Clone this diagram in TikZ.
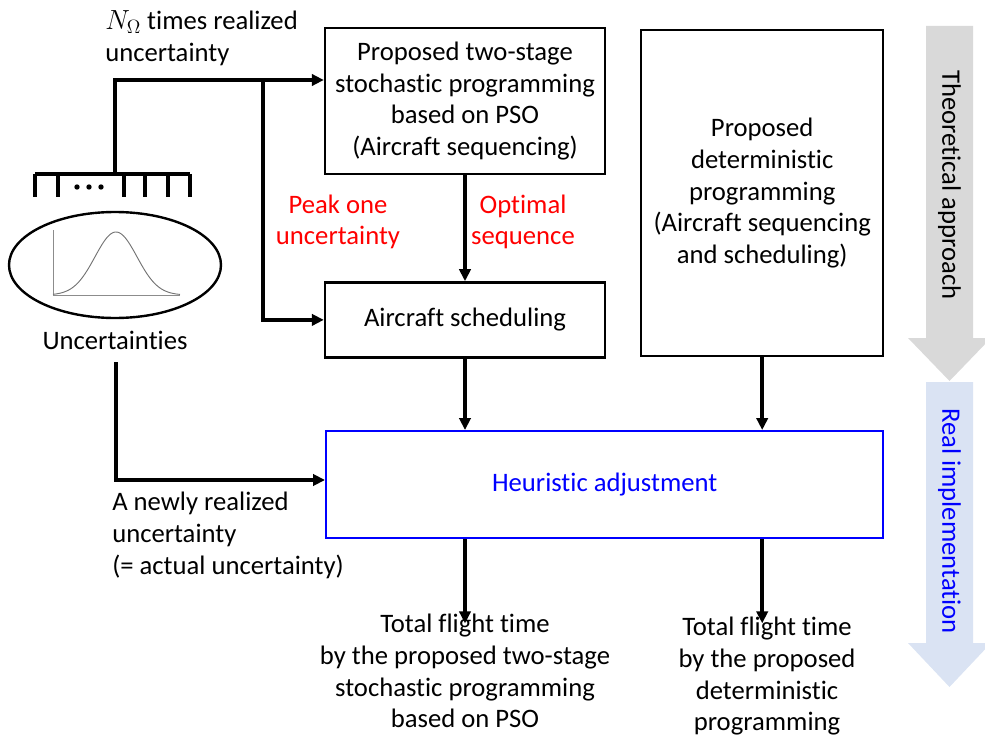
\documentclass[tikz,border=0pt]{standalone}
\usepackage{fontspec}
\setmainfont{Carlito}[Ligatures={NoCommon}]
\usetikzlibrary{arrows.meta,positioning,shapes.geometric}
\definecolor{FlowBlue}{HTML}{0000FF}
\definecolor{FlowRed}{HTML}{FF0000}
\definecolor{ApproachGray}{HTML}{D9D9D9}
\definecolor{ImplBlue}{HTML}{DAE3F3}

\begin{document}
\begin{tikzpicture}[
  x=0.75pt,y=-0.75pt,
  font=\fontsize{20}{23.8}\selectfont,
  box/.style={rectangle,draw=black,line width=1.8pt,align=center,inner sep=0pt},
  note/.style={align=center,inner sep=0pt},
  wire/.style={line width=2.6pt},
  flow/.style={-{Triangle[length=9pt,width=8.5pt]},line width=2.6pt}
]
\useasboundingbox (0,0) rectangle (985,738);
% approach arrows
\fill[ApproachGray] (926,26) -- (973,26) -- (973,338) -- (991,338) -- (949.5,381) -- (908,338) -- (926,338) -- cycle;
\node[rotate=-90] (theory) at (949.5,185) {Theoretical approach};
\fill[ImplBlue] (926,382) -- (973,382) -- (973,643) -- (991,643) -- (949.5,687) -- (908,643) -- (926,643) -- cycle;
\node[rotate=-90,text=FlowBlue] (impl) at (949.5,521) {Real implementation};
% stages
\node[box,minimum width=210pt,minimum height=109.5pt] (twostage) at (465,101) {Proposed two-stage\\stochastic programming\\based on PSO\\(Aircraft sequencing)};
\node[box,minimum width=210pt,minimum height=56.25pt,below=79.5pt of twostage] (sched) {Aircraft scheduling};
\node[box,minimum width=181.5pt,minimum height=244.5pt,anchor=north west] (determ) at (640,29) {Proposed\\deterministic\\programming\\(Aircraft sequencing\\and scheduling)};
\node[box,draw=FlowBlue,text=FlowBlue,minimum width=417.75pt,minimum height=80.25pt,anchor=north west] (heur) at (325,430) {Heuristic adjustment};
% uncertainties
\draw[line width=1.8pt] (115,265) ellipse [x radius=106, y radius=53];
\draw[black!45,line width=0.6pt] (53,230) -- (53,295) -- (180,295);
\draw[black!55,line width=0.7pt] plot[domain=53:180,samples=80] (\x,{295-63*exp(-((\x-116)/21)^2/2)});
\node (unclabel) at (115,340) {Uncertainties};
\draw[wire] (35,174) -- (190,174);
\foreach \t in {35,58,124,145,168,190}
  \draw[wire] (\t,174) -- (\t,197);
\foreach \d in {77,89,101}
  \fill (\d,187) circle (2.7);
\coordinate (stem) at (115,174);
\coordinate (split) at (263,80);
\coordinate (newstart) at (116,362);
\coordinate (newbend) at (116,480);
% labels
\node[note,anchor=west,align=left] (nlabel) at (105,38) {$N_\Omega$ times realized\\uncertainty};
\node[note,text=FlowRed] (peak) at (338,222) {Peak one\\uncertainty};
\node[note,text=FlowRed] (optimal) at (523,222) {Optimal\\sequence};
\node[note,anchor=north west,align=left] (newlabel) at (112,492) {A newly realized\\uncertainty\\(= actual uncertainty)};
\node[note,anchor=north] (resulttwo) at (465,614) {Total flight time\\by the proposed two-stage\\stochastic programming\\based on PSO};
\node[note,anchor=north] (resultdet) at (767,617) {Total flight time\\by the proposed\\deterministic\\programming};
% connectors
\draw[flow] (stem) |- (split) -- (twostage.west |- split);
\draw[flow] (split) |- (sched.west);
\draw[flow] (twostage.south) -- (sched.north);
\draw[flow] (sched.south) -- (sched.south |- heur.north);
\draw[flow] (determ.south) -- (determ.south |- heur.north);
\draw[flow] (newstart) -- (newbend) -- (heur.west |- newbend);
\draw[flow] (sched.south |- heur.south) -- ([yshift=-7pt]sched.south |- resulttwo.north);
\draw[flow] (determ.south |- heur.south) -- ([yshift=-7pt]determ.south |- resulttwo.north);
\end{tikzpicture}
\end{document}
